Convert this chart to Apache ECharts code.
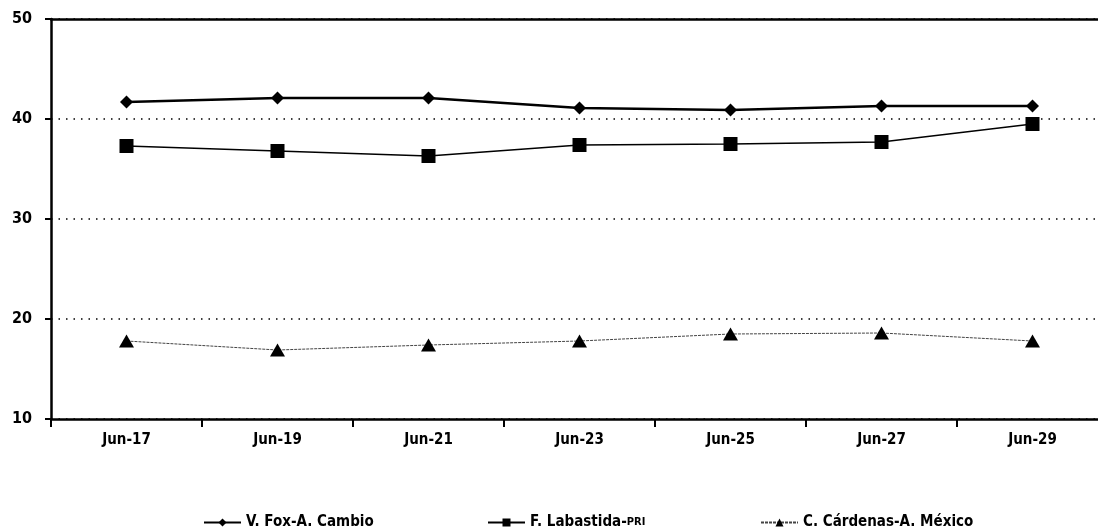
<!DOCTYPE html>
<html><head><meta charset="utf-8">
<script src="https://cdn.jsdelivr.net/npm/echarts@6/dist/echarts.min.js"></script>
<style>html,body{margin:0;padding:0;background:#fff}#c{width:1098px;height:530px}</style>
</head><body><div id="c"></div>
<script>
const categories = ['Jun-17','Jun-19','Jun-21','Jun-23','Jun-25','Jun-27','Jun-29'];
const foxValues = [41.7, 42.1, 42.1, 41.1, 40.9, 41.3, 41.3];
const labastidaValues = [37.3, 36.8, 36.3, 37.4, 37.5, 37.7, 39.5];
const cardenasValues = [17.8, 16.9, 17.4, 17.8, 18.5, 18.6, 17.8];
const yTicks = [10, 20, 30, 40, 50];
const seriesNames = ['V. Fox-A. Cambio', 'F. Labastida-PRI', 'C. Cárdenas-A. México'];

const font = '"DejaVu Sans Condensed", "DejaVu Sans", sans-serif';
const chart = echarts.init(document.getElementById('c'));
const legendBase = {
  bottom: 0, padding: 0, itemWidth: 37, itemHeight: 10, itemGap: 6,
  textStyle: { fontFamily: font, fontWeight: 'bold', fontSize: 15, color: '#000',
    rich: { s: { fontFamily: font, fontWeight: 'bold', fontSize: 11, color: '#000' } } }
};
chart.setOption({
  animation: false,
  grid: { left: 51, width: 1057, top: 19, bottom: 111, outerBoundsMode: 'none', containLabel: false },
  xAxis: [{
    type: 'category', data: categories, boundaryGap: true, position: 'bottom',
    axisLine: { lineStyle: { color: '#000', width: 2.5 } },
    axisTick: { show: true, length: 8, lineStyle: { color: '#000', width: 2 } },
    axisLabel: { margin: 14, fontFamily: font, fontWeight: 'bold', fontSize: 15, color: '#000' }
  }, {
    type: 'category', data: categories, position: 'top',
    axisLine: { onZero: false, lineStyle: { color: '#000', width: 2.5 } },
    axisTick: { show: false }, axisLabel: { show: false }
  }],
  yAxis: {
    type: 'value', min: 10, max: 50, interval: 10,
    axisLine: { show: true, lineStyle: { color: '#000', width: 2.5 } },
    axisTick: { show: true, length: 6, lineStyle: { color: '#000', width: 2 } },
    axisLabel: { margin: 19, fontFamily: font, fontWeight: 'bold', fontSize: 16, color: '#000',
      formatter: v => yTicks.includes(v) ? String(v) : '' },
    splitLine: { show: true, lineStyle: { color: '#000', type: [1.5, 6], width: 1.5 } }
  },
  legend: [
    Object.assign({}, legendBase, { left: 203, data: [seriesNames[0]] }),
    Object.assign({}, legendBase, { left: 487, data: [seriesNames[1]],
      formatter: n => 'F. Labastida-{s|PRI}' }),
    Object.assign({}, legendBase, { left: 760, data: [seriesNames[2]] })
  ],
  series: [{
    name: seriesNames[0], type: 'line', data: foxValues,
    symbol: 'diamond', symbolSize: [13, 13],
    lineStyle: { color: '#000', width: 2.5 }, itemStyle: { color: '#000' }
  }, {
    name: seriesNames[1], type: 'line', data: labastidaValues,
    symbol: 'rect', symbolSize: 14,
    lineStyle: { color: '#000', width: 1.5 }, itemStyle: { color: '#000' }
  }, {
    name: seriesNames[2], type: 'line', data: cardenasValues,
    symbol: 'triangle', symbolSize: [15, 13],
    lineStyle: { color: '#444', width: 1, type: [3, 1] }, itemStyle: { color: '#000' }
  }]
});
</script></body></html>
